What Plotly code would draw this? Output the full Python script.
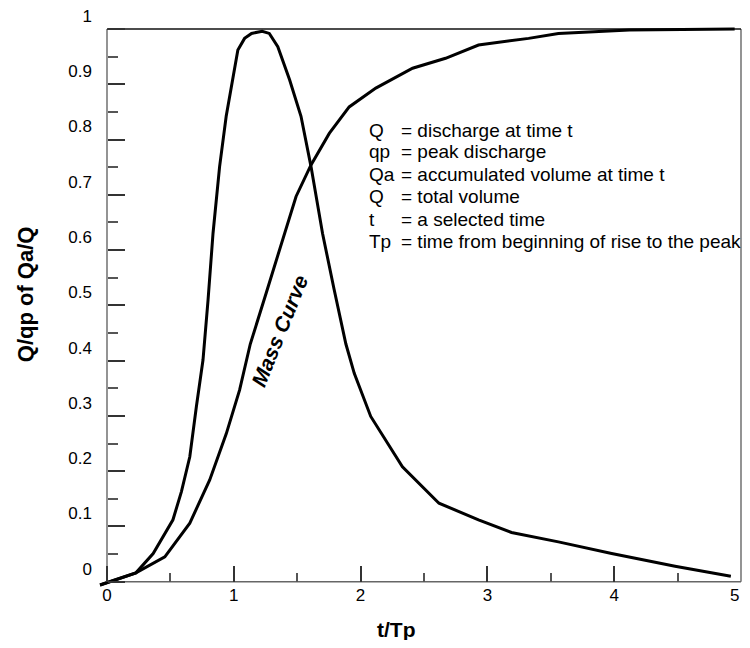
import plotly.graph_objects as go

# ---- data ----
hyd_t = [-0.055, 0.228, 0.364, 0.52, 0.587, 0.653, 0.705, 0.757, 0.797, 0.836, 0.888, 0.94,
         1.032, 1.085, 1.14, 1.224, 1.28, 1.347, 1.44, 1.53, 1.609, 1.70, 1.79, 1.884, 1.95,
         2.08, 2.33, 2.618, 2.93, 3.19, 3.56, 3.98, 4.48, 4.92]
hyd_q = [-0.006, 0.016, 0.051, 0.112, 0.163, 0.226, 0.317, 0.401, 0.51, 0.63, 0.751, 0.842,
         0.962, 0.983, 0.992, 0.996, 0.992, 0.968, 0.908, 0.842, 0.751, 0.63, 0.53, 0.43, 0.377,
         0.299, 0.208, 0.142, 0.112, 0.089, 0.072, 0.051, 0.028, 0.010]

mass_t = [-0.055, 0.228, 0.456, 0.653, 0.81, 0.941, 1.046, 1.13, 1.255, 1.386, 1.491, 1.609,
          1.753, 1.91, 2.12, 2.41, 2.67, 2.93, 3.325, 3.56, 4.12, 4.95]
mass_q = [-0.006, 0.016, 0.045, 0.106, 0.184, 0.268, 0.347, 0.43, 0.522, 0.618, 0.697, 0.754,
          0.811, 0.859, 0.893, 0.929, 0.947, 0.971, 0.983, 0.992, 0.998, 1.0]

legend_keys = ["Q", "qp", "Qa", "Q", "t", "Tp"]
legend_desc = ["= discharge at time t", "= peak discharge", "= accumulated volume at time t",
               "= total volume", "= a selected time", "= time from beginning of rise to the peak"]

x_tickvals = [0, 1, 2, 3, 4, 5]
x_ticktext = ["0", "1", "2", "3", "4", "5"]
y_tickvals = [0, 0.1, 0.2, 0.3, 0.4, 0.5, 0.6, 0.7, 0.8, 0.9, 1]
y_ticktext = ["0", "0.1", "0.2", "0.3", "0.4", "0.5", "0.6", "0.7", "0.8", "0.9", "1"]

# ---- layout geometry ----
FONT = "Liberation Sans, Arial, Helvetica, sans-serif"
XR = [-0.0631, 5.0079]
YR = [-0.0096, 1.0054]


def px(xd):
    return (xd - XR[0]) / (XR[1] - XR[0])


def py(yd):
    return (yd - YR[0]) / (YR[1] - YR[0])


fig = go.Figure()
for xs, ys in [(hyd_t, hyd_q), (mass_t, mass_q)]:
    fig.add_trace(go.Scatter(x=xs, y=ys, mode="lines",
                             line=dict(color="#000000", width=3), showlegend=False,
                             hoverinfo="skip"))

fig.update_layout(
    template="none",
    width=734, height=632,
    margin=dict(l=91, r=0, t=18, b=53, autoexpand=False),
    paper_bgcolor="white", plot_bgcolor="white",
    showlegend=False,
    font=dict(family=FONT, color="#000000"),
    xaxis=dict(range=XR, showgrid=False, zeroline=False, showline=False, automargin=False,
               anchor="free", position=py(0),
               tickmode="array", tickvals=x_tickvals,
               ticktext=x_ticktext[:-1] + [""],
               ticks="inside", ticklen=16, tickwidth=1.5, tickcolor="#333333",
               minor=dict(ticks="inside", ticklen=9, tickwidth=1.5, tickcolor="#555555",
                          tickmode="linear", tick0=0, dtick=0.5, showgrid=False),
               tickfont=dict(size=17, family=FONT, color="#000000"),
               ticklabelstandoff=1, ticklabeloverflow="allow"),
    yaxis=dict(range=YR, showgrid=False, zeroline=False, showline=False, automargin=False,
               anchor="free", position=px(0),
               tickmode="array", tickvals=y_tickvals, ticktext=y_ticktext,
               ticks="inside", ticklen=17, tickwidth=1.5, tickcolor="#333333",
               minor=dict(ticks="inside", ticklen=10, tickwidth=1.5, tickcolor="#555555",
                          tickmode="linear", tick0=0, dtick=0.05, showgrid=False),
               tickfont=dict(size=17, family=FONT, color="#000000"),
               ticklabelshift=-13, ticklabelstandoff=15, ticklabeloverflow="allow"),
)

# last x tick label sits against the right edge
fig.add_annotation(x=px(x_tickvals[-1]), y=py(0), xref="paper", yref="paper",
                   text=x_ticktext[-1], showarrow=False, xanchor="right", yanchor="top",
                   yshift=-2, font=dict(size=17, family=FONT))

# frame: top black, others grey
frame = [
    (0, 0, 0, 1, "#666666"),
    (0, 0, 5, 0, "#666666"),
    (5, 0, 5, 1, "#666666"),
    (0, 1, 5, 1, "#111111"),
]
for x0, y0, x1, y1, c in frame:
    fig.add_shape(type="line", xref="x", yref="y", x0=x0, y0=y0, x1=x1, y1=y1,
                  line=dict(color=c, width=1.4), layer="below")

# legend text block
row_y = [0.817, 0.778, 0.736, 0.697, 0.656, 0.615]
for k, d, yy in zip(legend_keys, legend_desc, row_y):
    fig.add_annotation(x=px(2.05), y=py(yy), xref="paper", yref="paper", text=k,
                       showarrow=False, xanchor="left", yanchor="middle",
                       font=dict(size=19, family=FONT))
    fig.add_annotation(x=px(2.30), y=py(yy), xref="paper", yref="paper", text=d,
                       showarrow=False, xanchor="left", yanchor="middle",
                       font=dict(size=19, family=FONT))

# curve label
fig.add_annotation(x=px(1.36), y=py(0.455), xref="paper", yref="paper",
                   text="<b><i>Mass Curve</i></b>", xanchor="center", yanchor="middle",
                   showarrow=False, textangle=-68, font=dict(size=21, family=FONT))

# axis titles
fig.add_annotation(x=px(2.28), y=py(-0.087), xref="paper", yref="paper", text="<b>t/Tp</b>",
                   xanchor="center", yanchor="middle",
                   showarrow=False, font=dict(size=21, family=FONT))
fig.add_annotation(x=px(-0.645), y=py(0.5205), xref="paper", yref="paper",
                   text="<b>Q/qp of Qa/Q</b>", xanchor="center", yanchor="middle",
                   showarrow=False, textangle=-90, font=dict(size=22, family=FONT))

fig.write_html("out.html")
